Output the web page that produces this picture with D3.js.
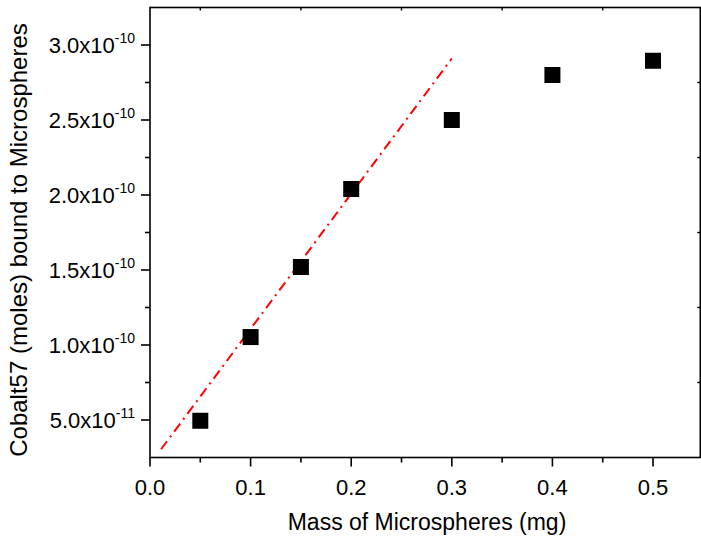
<!DOCTYPE html>
<html>
<head>
<meta charset="utf-8">
<script src="https://cdn.jsdelivr.net/npm/d3@7"></script>
<style>
  body { margin: 0; background: #fff; }
  text { font-family: "Liberation Sans", Arial, sans-serif; fill: #000; }
</style>
</head>
<body>
<div id="chart"></div>
<script>
// data
var massMg = [0.05, 0.1, 0.15, 0.2, 0.3, 0.4, 0.5];
var cobaltMoles = [4.95e-11, 1.053e-10, 1.52e-10, 2.04e-10, 2.5e-10, 2.8e-10, 2.895e-10];

// red dash-dot fit line ends
var fitX = [0.011, 0.3];
var fitY = [3.05e-11, 2.91e-10];

var xTicks = [0, 0.1, 0.2, 0.3, 0.4, 0.5];
var xMinor = [0.05, 0.15, 0.25, 0.35, 0.45];
var yTicks = [5e-11, 1e-10, 1.5e-10, 2e-10, 2.5e-10, 3e-10];
var yMinor = [7.5e-11, 1.25e-10, 1.75e-10, 2.25e-10, 2.75e-10];
var yMant = ["5.0", "1.0", "1.5", "2.0", "2.5", "3.0"];
var yExp = ["-11", "-10", "-10", "-10", "-10", "-10"];

var svgWidth = 701, svgHeight = 536;

var svg = d3.select("#chart").append("svg")
    .attr("width", svgWidth)
    .attr("height", svgHeight);

var x = d3.scaleLinear().domain([0, 0.547]).range([150, 700.3]);
var y = d3.scaleLinear().domain([2.5e-11, 3.25e-10]).range([457.5, 7.5]);

var plotL = x.range()[0], plotR = x.range()[1];
var plotT = y.range()[1], plotB = y.range()[0];

// frame
svg.append("rect")
    .attr("x", plotL).attr("y", plotT)
    .attr("width", plotR - plotL).attr("height", plotB - plotT)
    .attr("fill", "none").attr("stroke", "#000").attr("stroke-width", 1.6);

// bottom axis
var bx = svg.append("g");
bx.selectAll("line.maj").data(xTicks).enter().append("line")
    .attr("x1", d => x(d)).attr("x2", d => x(d))
    .attr("y1", plotB).attr("y2", plotB + 9)
    .attr("stroke", "#000").attr("stroke-width", 1.6);
bx.selectAll("line.min").data(xMinor).enter().append("line")
    .attr("x1", d => x(d)).attr("x2", d => x(d))
    .attr("y1", plotB).attr("y2", plotB + 5)
    .attr("stroke", "#000").attr("stroke-width", 1.6);
bx.selectAll("text").data(xTicks).enter().append("text")
    .attr("x", d => x(d)).attr("y", 495)
    .attr("text-anchor", "middle")
    .attr("font-size", 22)
    .text(d => d3.format(".1f")(d));

// top axis, small inward ticks
svg.selectAll("line.top").data(xMinor).enter().append("line")
    .attr("x1", d => x(d)).attr("x2", d => x(d))
    .attr("y1", plotT).attr("y2", plotT + 3)
    .attr("stroke", "#000").attr("stroke-width", 1.4);

// left axis
var ly = svg.append("g");
ly.selectAll("line.maj").data(yTicks).enter().append("line")
    .attr("x1", plotL - 9).attr("x2", plotL)
    .attr("y1", d => y(d)).attr("y2", d => y(d))
    .attr("stroke", "#000").attr("stroke-width", 1.6);
ly.selectAll("line.min").data(yMinor).enter().append("line")
    .attr("x1", plotL - 5).attr("x2", plotL)
    .attr("y1", d => y(d)).attr("y2", d => y(d))
    .attr("stroke", "#000").attr("stroke-width", 1.6);
var labels = ly.selectAll("text").data(yTicks).enter().append("text")
    .attr("x", 135).attr("y", d => y(d) + 8)
    .attr("text-anchor", "end")
    .attr("font-size", 22);
labels.append("tspan").text((d, i) => yMant[i] + "x10");
labels.append("tspan")
    .attr("font-size", 14).attr("dy", -10)
    .text((d, i) => yExp[i]);

// right axis, small inward ticks
svg.selectAll("line.right").data(yMinor).enter().append("line")
    .attr("x1", plotR - 3).attr("x2", plotR)
    .attr("y1", d => y(d)).attr("y2", d => y(d))
    .attr("stroke", "#000").attr("stroke-width", 1.4);

// fit line
svg.append("line")
    .attr("x1", x(fitX[0])).attr("y1", y(fitY[0]))
    .attr("x2", x(fitX[1])).attr("y2", y(fitY[1]))
    .attr("stroke", "#ff0000").attr("stroke-width", 2)
    .attr("stroke-dasharray", "10,5,2,5");

// square markers
var sz = 16;
svg.selectAll("rect.pt").data(massMg).enter().append("rect")
    .attr("x", d => x(d) - sz / 2)
    .attr("y", (d, i) => y(cobaltMoles[i]) - sz / 2)
    .attr("width", sz).attr("height", sz)
    .attr("fill", "#000");

// axis titles
svg.append("text")
    .attr("x", 427).attr("y", 530)
    .attr("text-anchor", "middle")
    .attr("font-size", 23)
    .text("Mass of Microspheres (mg)");

svg.append("text")
    .attr("transform", "translate(27, 240) rotate(-90)")
    .attr("text-anchor", "middle")
    .attr("font-size", 24)
    .text("Cobalt57 (moles) bound to Microspheres");
</script>
</body>
</html>
